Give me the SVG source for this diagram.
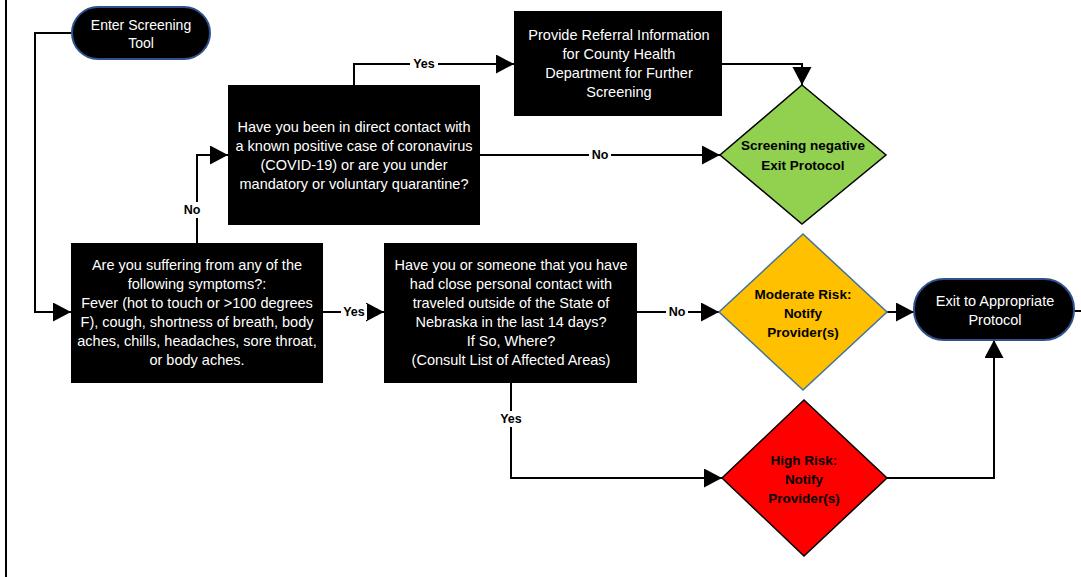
<svg xmlns="http://www.w3.org/2000/svg" width="1081" height="577" viewBox="0 0 1081 577">
<style>
.t{font-family:"Liberation Sans",Arial,sans-serif;font-size:14.5px;fill:#fff;text-anchor:middle}
.d{font-family:"Liberation Sans",Arial,sans-serif;font-size:13.5px;font-weight:bold;fill:#000;text-anchor:middle}
.l{font-family:"Liberation Sans",Arial,sans-serif;font-size:12.5px;font-weight:bold;fill:#000;text-anchor:middle}
.c{fill:none;stroke:#000;stroke-width:2}
.box{fill:#000}
.pill{fill:#000;stroke:#2F528F;stroke-width:2}
</style>
<defs>
<marker id="ah" markerUnits="userSpaceOnUse" markerWidth="19" markerHeight="20" refX="18" refY="9.5" orient="auto">
<path d="M0,0 L18,9.5 L0,19 z" fill="#000"/>
</marker>
</defs>
<rect width="1081" height="577" fill="#fff"/>
<line x1="6" y1="0" x2="6" y2="577" stroke="#000" stroke-width="2"/>
<g id="connectors">
<path class="c" d="M72,33 H35 V312 H71" marker-end="url(#ah)"/>
<path class="c" d="M197,243 V155 H228" marker-end="url(#ah)"/>
<path class="c" d="M354,85 V64 H514" marker-end="url(#ah)"/>
<path class="c" d="M722,64 H802 V85" marker-end="url(#ah)"/>
<path class="c" d="M480,155 H720" marker-end="url(#ah)"/>
<path class="c" d="M323,312 H384" marker-end="url(#ah)"/>
<path class="c" d="M637,312 H719" marker-end="url(#ah)"/>
<path class="c" d="M887,312 H914" marker-end="url(#ah)"/>
<path class="c" d="M511,383 V478 H722" marker-end="url(#ah)"/>
<path class="c" d="M887,478 H994 V340" marker-end="url(#ah)"/>
<path class="c" d="M1074,311 H1081"/>
<g>
<rect x="410" y="56" width="28" height="16" fill="#fff"/><text class="l" x="424" y="68">Yes</text>
<rect x="589" y="147" width="22" height="16" fill="#fff"/><text class="l" x="600" y="159">No</text>
<rect x="182" y="202" width="20" height="16" fill="#fff"/><text class="l" x="192" y="214">No</text>
<rect x="341" y="304" width="26" height="16" fill="#fff"/><text class="l" x="354" y="316">Yes</text>
<rect x="666" y="304" width="22" height="16" fill="#fff"/><text class="l" x="677" y="316">No</text>
<rect x="497" y="411" width="28" height="16" fill="#fff"/><text class="l" x="511" y="423">Yes</text>
</g>
</g>
<g id="enter">
<rect class="pill" x="72" y="7" width="138" height="52" rx="26"/>
<text class="t" x="141" y="30" style="font-size:14px">Enter Screening</text>
<text class="t" x="141" y="48" style="font-size:14px">Tool</text>
</g>
<g id="symptoms">
<rect class="box" x="71" y="243" width="252" height="140"/>
<text class="t" x="197" y="270">Are you suffering from any of the</text>
<text class="t" x="197" y="289">following symptoms?:</text>
<text class="t" x="197" y="308">Fever (hot to touch or &gt;100 degrees</text>
<text class="t" x="197" y="327">F), cough, shortness of breath, body</text>
<text class="t" x="197" y="346">aches, chills, headaches, sore throat,</text>
<text class="t" x="197" y="365">or body aches.</text>
</g>
<g id="contact">
<rect class="box" x="228" y="85" width="252" height="140"/>
<text class="t" x="354" y="132">Have you been in direct contact with</text>
<text class="t" x="354" y="151">a known positive case of coronavirus</text>
<text class="t" x="354" y="170">(COVID-19) or are you under</text>
<text class="t" x="354" y="189">mandatory or voluntary quarantine?</text>
</g>
<g id="referral">
<rect class="box" x="514" y="11" width="208" height="105"/>
<text class="t" x="619" y="40">Provide Referral Information</text>
<text class="t" x="619" y="59">for County Health</text>
<text class="t" x="619" y="78">Department for Further</text>
<text class="t" x="619" y="97">Screening</text>
</g>
<g id="travel">
<rect class="box" x="384" y="243" width="253" height="140"/>
<text class="t" x="511" y="270">Have you or someone that you have</text>
<text class="t" x="511" y="289">had close personal contact with</text>
<text class="t" x="511" y="308">traveled outside of the State of</text>
<text class="t" x="511" y="327">Nebraska in the last 14 days?</text>
<text class="t" x="511" y="346">If So, Where?</text>
<text class="t" x="511" y="365">(Consult List of Affected Areas)</text>
</g>
<g id="negative">
<polygon points="802,85 886,155 802,224 720,155" fill="#92D050" stroke="#000" stroke-width="1.5"/>
<text class="d" x="803" y="150">Screening negative</text>
<text class="d" x="803" y="170">Exit Protocol</text>
</g>
<g id="moderate">
<polygon points="803,234 887,312 803,390 719,312" fill="#FFC000" stroke="#41719C" stroke-width="1.5"/>
<text class="d" x="803" y="299">Moderate Risk:</text>
<text class="d" x="803" y="318">Notify</text>
<text class="d" x="803" y="337">Provider(s)</text>
</g>
<g id="high">
<polygon points="804,400 887,478 804,556 722,478" fill="#FF0000" stroke="#000" stroke-width="1.5"/>
<text class="d" x="804" y="465">High Risk:</text>
<text class="d" x="804" y="484">Notify</text>
<text class="d" x="804" y="503">Provider(s)</text>
</g>
<g id="exit">
<rect class="pill" x="914" y="279" width="160" height="61" rx="30"/>
<text class="t" x="995" y="306">Exit to Appropriate</text>
<text class="t" x="995" y="325">Protocol</text>
</g>
</svg>
